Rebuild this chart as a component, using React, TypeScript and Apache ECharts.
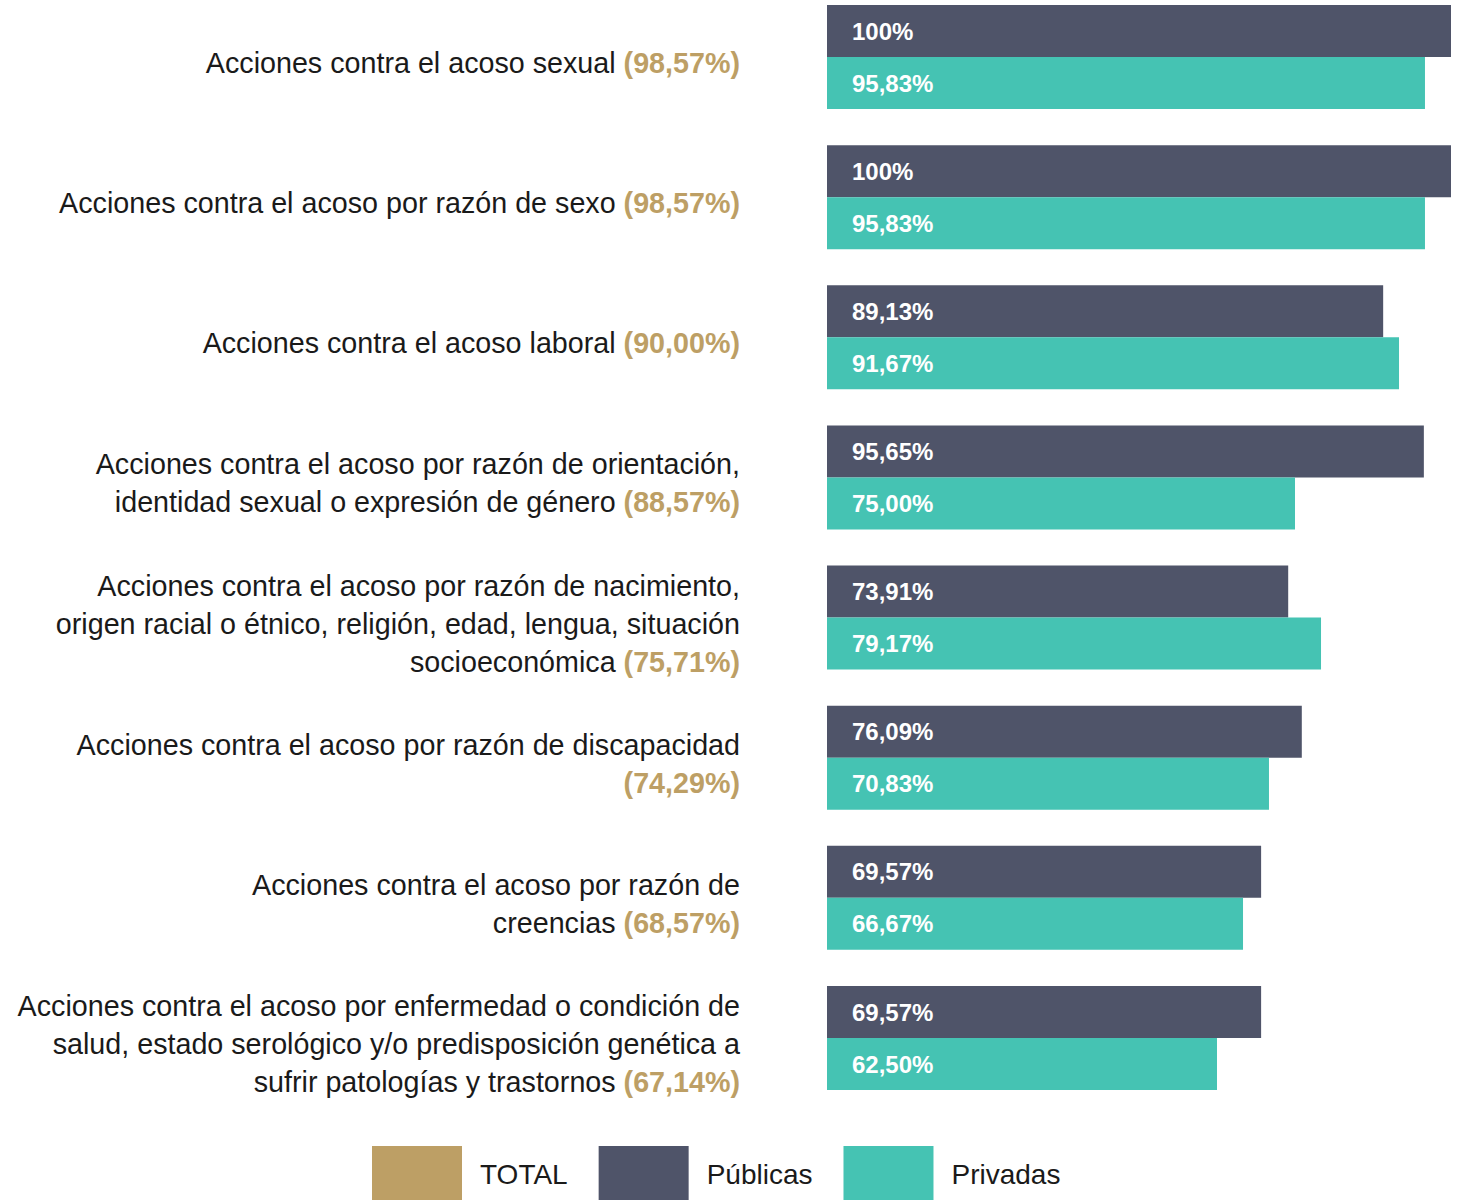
import React, { useEffect, useRef } from "react";
import * as echarts from "echarts";

const categories: string[] = [
  "Acciones contra el acoso sexual",
  "Acciones contra el acoso por razón de sexo",
  "Acciones contra el acoso laboral",
  "Acciones contra el acoso por razón de orientación,\nidentidad sexual o expresión de género",
  "Acciones contra el acoso por razón de nacimiento,\norigen racial o étnico, religión, edad, lengua, situación\nsocioeconómica",
  "Acciones contra el acoso por razón de discapacidad\n",
  "Acciones contra el acoso por razón de\ncreencias",
  "Acciones contra el acoso por enfermedad o condición de\nsalud, estado serológico y/o predisposición genética a\nsufrir patologías y trastornos",
];
const totalValues: number[] = [98.57, 98.57, 90.0, 88.57, 75.71, 74.29, 68.57, 67.14];
const publicasValues: number[] = [100, 100, 89.13, 95.65, 73.91, 76.09, 69.57, 69.57];
const privadasValues: number[] = [95.83, 95.83, 91.67, 75.0, 79.17, 70.83, 66.67, 62.5];
const seriesNames: string[] = ["TOTAL", "Públicas", "Privadas"];

const GOLD = "#bd9f65";
const DARK = "#4f5469";
const TEAL = "#45c3b3";
const FONT = "'Liberation Sans', Arial, Helvetica, sans-serif";

const fmt = (v: number) => (v === 100 ? "100%" : v.toFixed(2).replace(".", ",") + "%");

export default function App() {
  const ref = useRef<HTMLDivElement>(null);
  useEffect(() => {
    if (!ref.current) return;
    const chart = echarts.init(ref.current, undefined, { renderer: "svg" });
    const valueLabel = {
      show: true,
      position: "insideLeft" as const,
      distance: 25,
      color: "#ffffff",
      fontSize: 24,
      fontWeight: "bold" as const,
      fontFamily: FONT,
      formatter: (p: any) => fmt(p.value),
    };
    chart.setOption({
      animation: false,
      grid: { left: 827, right: 10, top: 57, height: 981, containLabel: false },
      legend: {
        data: seriesNames,
        left: 372,
        top: 1146,
        padding: 0,
        icon: "rect",
        itemWidth: 90,
        itemHeight: 56,
        itemGap: 31,
        selectedMode: false,
        textStyle: { fontSize: 28, color: "#1a1a1a", fontFamily: FONT, padding: [10, 0, 0, 13] },
      },
      xAxis: { type: "value", min: 0, max: 100, show: false },
      yAxis: {
        type: "category",
        data: categories,
        inverse: true,
        boundaryGap: false,
        axisLine: { show: false },
        axisTick: { show: false },
        splitLine: { show: false },
        axisLabel: {
          margin: 87,
          align: "right",
          padding: [12, 0, 0, 0],
          formatter: (name: string, idx: number) => {
            const sep = name.endsWith("\n") ? "" : " ";
            return `{n|${name}${sep}}{t|(${fmt(totalValues[idx])})}`;
          },
          rich: {
            n: { fontSize: 28.7, color: "#1a1a1a", fontFamily: FONT, lineHeight: 38 },
            t: { fontSize: 28.7, color: GOLD, fontWeight: "bold", fontFamily: FONT, lineHeight: 38 },
          },
        },
      },
      series: [
        { name: "TOTAL", type: "scatter", data: [], itemStyle: { color: GOLD, opacity: 1 } },
        {
          name: "Públicas",
          type: "bar",
          data: publicasValues,
          barWidth: 52,
          barGap: "0%",
          itemStyle: { color: DARK },
          label: valueLabel,
        },
        {
          name: "Privadas",
          type: "bar",
          data: privadasValues,
          barWidth: 52,
          barGap: "0%",
          itemStyle: { color: TEAL },
          label: valueLabel,
        },
      ],
    });
    return () => chart.dispose();
  }, []);
  return (
    <div
      ref={ref}
      style={{ position: "absolute", left: 0, top: 0, width: 1461, height: 1200, background: "#fff" }}
    />
  );
}
